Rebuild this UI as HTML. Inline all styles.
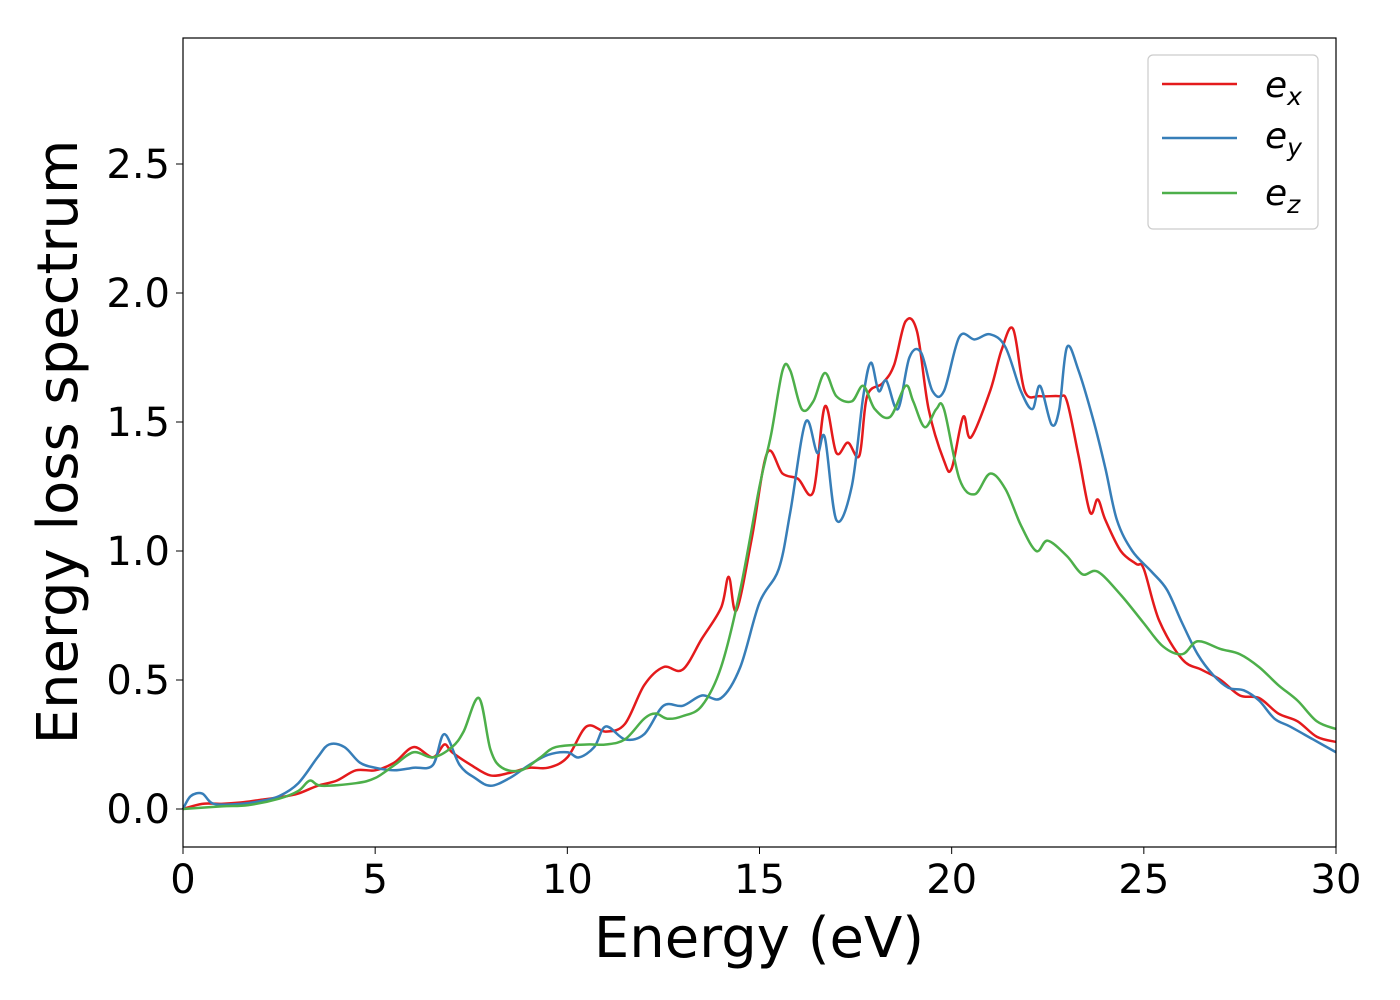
<!DOCTYPE html>
<html><head><meta charset="utf-8"><style>body{margin:0;background:#fff}svg{display:block}text{font-family:"DejaVu Sans","Liberation Sans",sans-serif}</style></head>
<body>
<svg id="chart" width="1400" height="1000" xmlns="http://www.w3.org/2000/svg">
<rect x="0" y="0" width="1400" height="1000" fill="#fff"/>
<g id="plot"></g>
<rect x="183" y="38" width="1153" height="809" fill="none" stroke="#000" stroke-width="1.2"/>
<g id="ticks"></g>
<text x="759" y="957" font-size="56" text-anchor="middle">Energy (eV)</text>
<text transform="translate(77,442) rotate(-90)" font-size="56" text-anchor="middle">Energy loss spectrum</text>
<g>
<rect x="1148" y="55" width="170" height="174" rx="5" fill="#fff" stroke="#ccc" stroke-width="1.2"/>
<g><line x1="1162" y1="84" x2="1237" y2="84" stroke="#e41a1c" stroke-width="2.5"/><text x="1265" y="97" font-size="36" font-style="italic">e<tspan font-size="25" dy="8">x</tspan></text></g>
<g><line x1="1162" y1="138" x2="1237" y2="138" stroke="#377eb8" stroke-width="2.5"/><text x="1265" y="148" font-size="36" font-style="italic">e<tspan font-size="25" dy="8">y</tspan></text></g>
<g><line x1="1162" y1="193" x2="1237" y2="193" stroke="#4daf4a" stroke-width="2.5"/><text x="1265" y="205" font-size="36" font-style="italic">e<tspan font-size="25" dy="8">z</tspan></text></g>
</g>
</svg>
<script>
const exX=[0,0.5,1,1.5,2,2.5,3,3.5,4,4.5,5,5.5,6,6.5,6.8,7,7.5,8,8.5,9,9.5,10,10.5,11,11.5,12,12.5,13,13.5,14,14.2,14.4,14.8,15.2,15.6,16,16.4,16.7,17,17.3,17.6,17.8,18.2,18.5,18.8,19.1,19.4,19.8,20,20.3,20.5,21,21.3,21.6,21.9,22.3,22.8,23,23.3,23.6,23.8,24,24.4,24.8,25,25.4,26,26.5,27,27.5,28,28.5,29,29.5,30];
const exY=[0,0.02,0.02,0.025,0.035,0.045,0.06,0.09,0.11,0.15,0.15,0.18,0.24,0.2,0.25,0.22,0.17,0.13,0.14,0.16,0.16,0.2,0.32,0.3,0.33,0.48,0.55,0.54,0.66,0.78,0.9,0.77,1.05,1.38,1.3,1.28,1.23,1.56,1.38,1.42,1.37,1.6,1.65,1.72,1.89,1.85,1.55,1.35,1.32,1.52,1.44,1.62,1.78,1.86,1.62,1.6,1.6,1.58,1.37,1.15,1.2,1.12,1.0,0.95,0.93,0.73,0.58,0.54,0.5,0.44,0.43,0.37,0.34,0.28,0.26];
const eyX=[0,0.2,0.5,0.8,1.5,2,2.5,3,3.5,3.8,4.2,4.6,5,5.5,6,6.5,6.8,7.2,7.6,8,8.5,9,9.5,10,10.3,10.7,11,11.5,12,12.5,13,13.5,14,14.5,15,15.5,15.8,16.2,16.5,16.7,17,17.4,17.7,17.9,18.1,18.3,18.6,18.9,19.2,19.5,19.8,20.2,20.6,21,21.4,21.8,22.1,22.3,22.6,22.8,23,23.3,23.7,24,24.3,24.7,25.2,25.6,26,26.4,26.8,27.2,27.6,28,28.4,28.8,29.4,30];
const eyY=[0,0.05,0.06,0.02,0.02,0.03,0.05,0.1,0.2,0.25,0.24,0.18,0.16,0.15,0.16,0.17,0.29,0.17,0.12,0.09,0.12,0.17,0.21,0.22,0.2,0.24,0.32,0.27,0.29,0.4,0.4,0.44,0.43,0.55,0.8,0.93,1.15,1.5,1.38,1.44,1.12,1.25,1.6,1.73,1.62,1.66,1.55,1.75,1.77,1.62,1.62,1.83,1.82,1.84,1.79,1.62,1.55,1.64,1.49,1.55,1.79,1.7,1.5,1.32,1.12,1.0,0.92,0.85,0.72,0.6,0.52,0.47,0.46,0.42,0.35,0.32,0.27,0.22];
const ezX=[0,1,1.7,2.5,3,3.3,3.6,4.5,5,5.5,6,6.5,7,7.3,7.7,8,8.3,8.8,9.3,9.7,10.5,11,11.5,12,12.3,12.6,13,13.5,14,14.5,15,15.3,15.6,15.8,16.1,16.4,16.7,17,17.4,17.7,18,18.4,18.8,19,19.3,19.6,19.8,20.2,20.6,21,21.4,21.8,22.2,22.5,23,23.4,23.8,24.4,25,25.5,26,26.4,27,27.5,28,28.5,29,29.5,30];
const ezY=[0,0.01,0.015,0.04,0.07,0.11,0.09,0.1,0.12,0.17,0.22,0.2,0.24,0.3,0.43,0.23,0.16,0.15,0.2,0.24,0.25,0.25,0.27,0.35,0.37,0.35,0.36,0.4,0.55,0.85,1.25,1.45,1.7,1.7,1.55,1.58,1.69,1.6,1.58,1.64,1.55,1.52,1.64,1.58,1.48,1.55,1.55,1.28,1.22,1.3,1.24,1.1,1.0,1.04,0.98,0.91,0.92,0.83,0.72,0.63,0.6,0.65,0.62,0.6,0.55,0.48,0.42,0.34,0.31];
const xTicks=[0,5,10,15,20,25,30];
const yTicks=[0.0,0.5,1.0,1.5,2.0,2.5];
const X=v=>183+v*(1153/30), Y=v=>809-v*258;
const NS='http://www.w3.org/2000/svg';
function path(xs,ys){const p=xs.map((x,i)=>[X(x),Y(ys[i])]);let d='M'+p[0][0]+','+p[0][1];
for(let i=0;i<p.length-1;i++){const a=p[i-1]||p[i],b=p[i],c=p[i+1],e=p[i+2]||c;
d+=` C${b[0]+(c[0]-a[0])/6},${b[1]+(c[1]-a[1])/6} ${c[0]-(e[0]-b[0])/6},${c[1]-(e[1]-b[1])/6} ${c[0]},${c[1]}`;}return d;}
const plot=document.getElementById('plot');
[[exX,exY,'#e41a1c','line-ex'],[eyX,eyY,'#377eb8','line-ey'],[ezX,ezY,'#4daf4a','line-ez']].forEach(s=>{
const el=document.createElementNS(NS,'path');el.setAttribute('d',path(s[0],s[1]));el.setAttribute('fill','none');el.setAttribute('stroke',s[2]);el.setAttribute('stroke-width','2.5');


plot.appendChild(el);});
const tg=document.getElementById('ticks');
xTicks.forEach(t=>{const l=document.createElementNS(NS,'line');l.setAttribute('x1',X(t));l.setAttribute('x2',X(t));l.setAttribute('y1',847);l.setAttribute('y2',854);l.setAttribute('stroke','#000');


tg.appendChild(l);
const tx=document.createElementNS(NS,'text');tx.setAttribute('x',X(t));tx.setAttribute('y',893);tx.setAttribute('font-size','40');tx.setAttribute('text-anchor','middle');tx.textContent=t;


tg.appendChild(tx);});
yTicks.forEach(t=>{const l=document.createElementNS(NS,'line');l.setAttribute('x1',176);l.setAttribute('x2',183);l.setAttribute('y1',Y(t));l.setAttribute('y2',Y(t));l.setAttribute('stroke','#000');


tg.appendChild(l);
const tx=document.createElementNS(NS,'text');tx.setAttribute('x',170);tx.setAttribute('y',Y(t)+14);tx.setAttribute('font-size','40');tx.setAttribute('text-anchor','end');tx.textContent=t.toFixed(1);


tg.appendChild(tx);});
</script>
</body></html>
